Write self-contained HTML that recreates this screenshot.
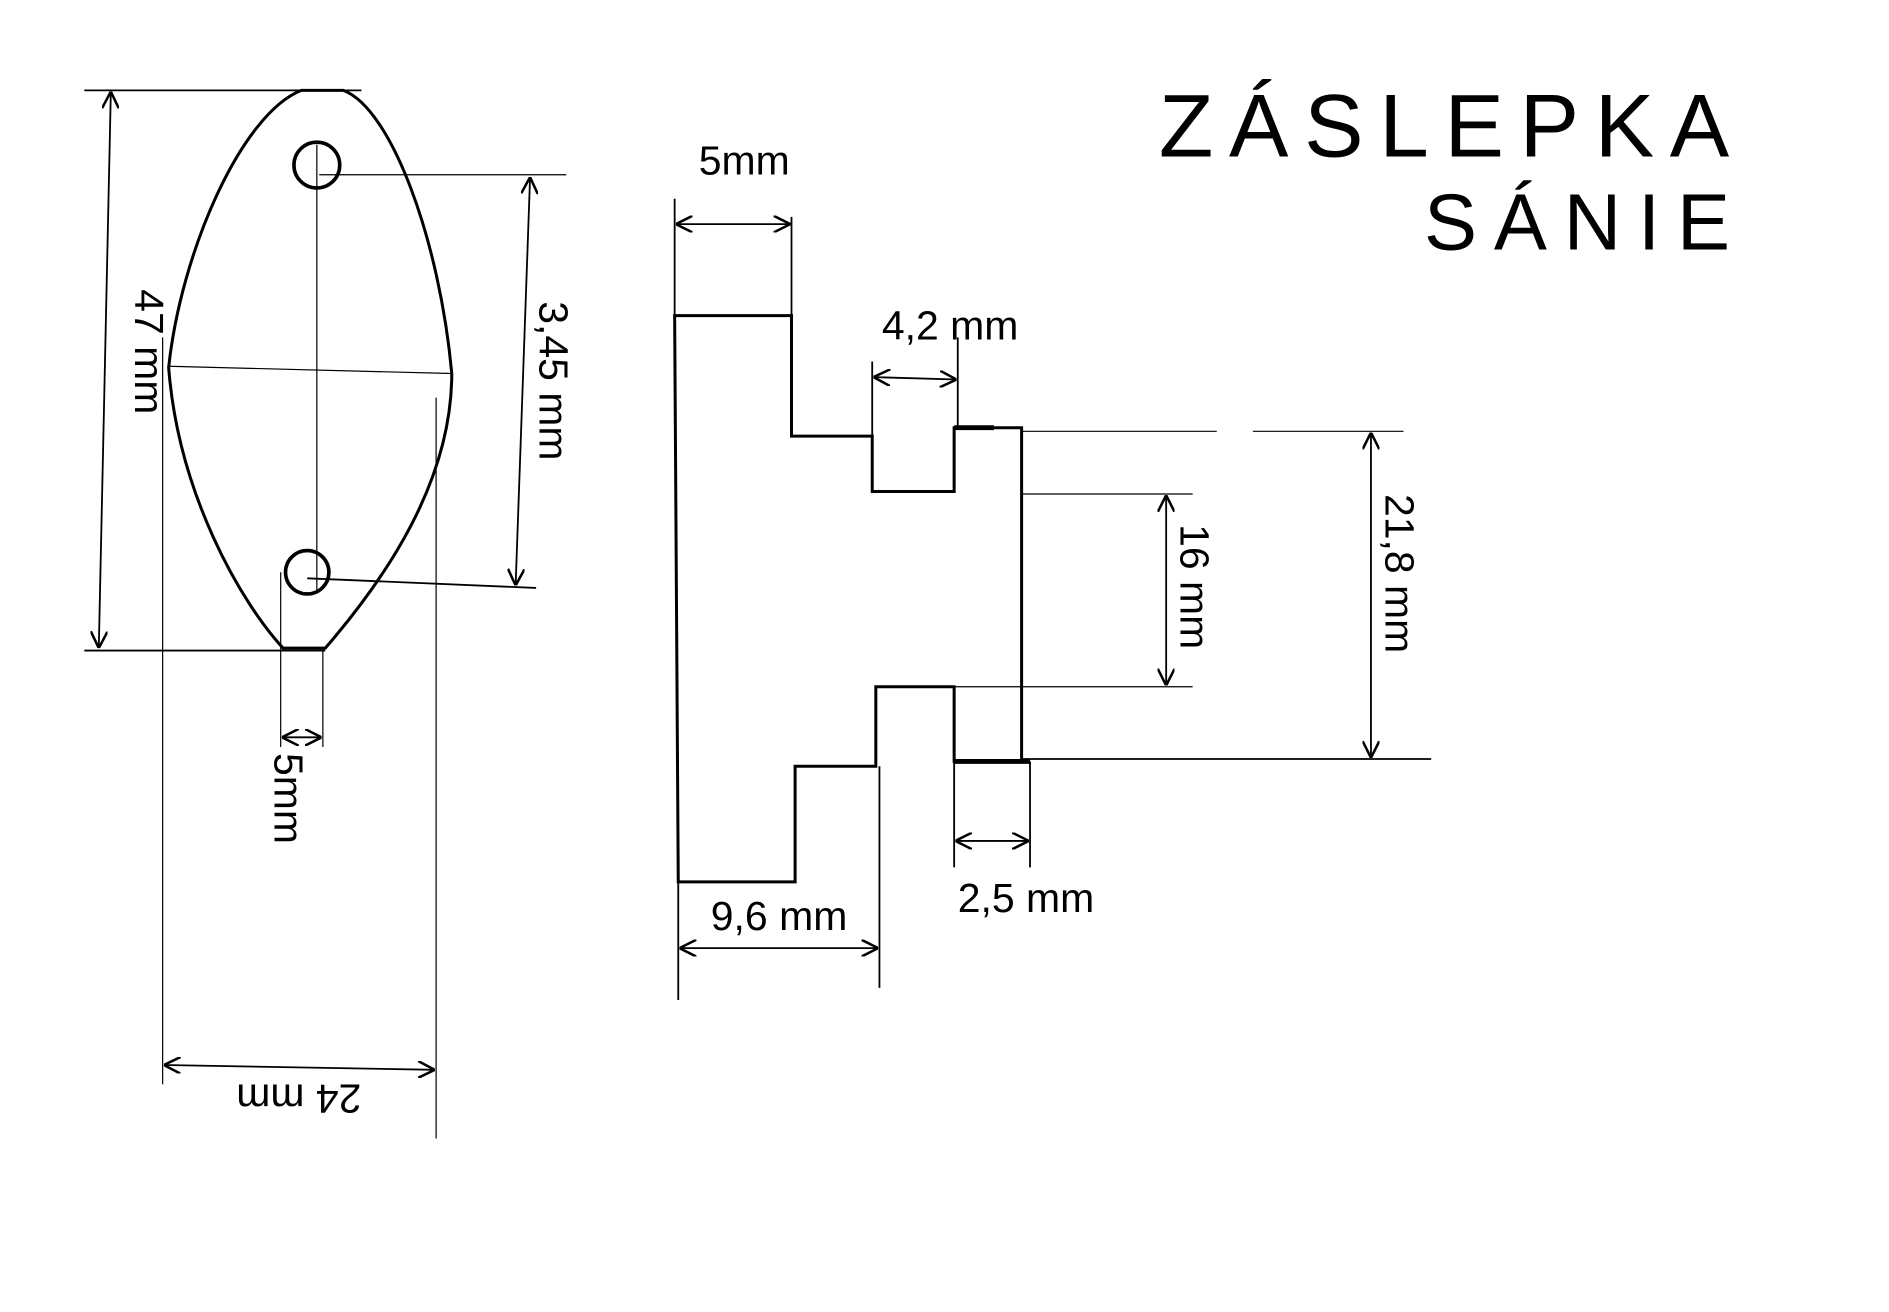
<!DOCTYPE html>
<html><head><meta charset="utf-8"><style>
html,body{margin:0;padding:0;background:#fff;}
svg{display:block;}
text{font-family:"Liberation Sans",sans-serif;fill:#000;}
</style></head><body>
<svg width="1889" height="1312" viewBox="0 0 1568 1089" xmlns="http://www.w3.org/2000/svg">
<defs>
<marker id="a" viewBox="0 0 10 10" refX="10" refY="5" markerWidth="14" markerHeight="14" orient="auto-start-reverse" markerUnits="userSpaceOnUse">
<path d="M0,0 L10,5 L0,10" fill="none" stroke="#000" stroke-width="1.5"/></marker>
</defs>
<g stroke="#000" fill="none" stroke-width="2">
<path d="M250,75 L285,75 C325,90 365,200 375,310 C375,400 320,480 270,538 L235,538 C200,500 148,410 140,305 C150,210 200,95 250,75 Z" stroke-width="2.5"/>
<circle cx="263" cy="137" r="19" stroke-width="3"/>
<circle cx="255" cy="475" r="18" stroke-width="3"/>
<line x1="263" y1="120" x2="263" y2="490" stroke-width="1"/>
<line x1="140" y1="304" x2="375" y2="310" stroke-width="1"/>
<line x1="70" y1="75" x2="300" y2="75" stroke-width="1.5"/>
<line x1="70" y1="540" x2="270" y2="540" stroke-width="1.5"/>
<line x1="92" y1="76" x2="82" y2="538" marker-start="url(#a)" marker-end="url(#a)" stroke-width="1.5"/>
<line x1="265" y1="145" x2="470" y2="145" stroke-width="1"/>
<line x1="255" y1="480" x2="445" y2="488" stroke-width="1.5"/>
<line x1="440" y1="147" x2="428" y2="486" marker-start="url(#a)" marker-end="url(#a)" stroke-width="1.5"/>
<line x1="135" y1="280" x2="135" y2="900" stroke-width="1"/>
<line x1="362" y1="330" x2="362" y2="945" stroke-width="1"/>
<line x1="136" y1="884" x2="361" y2="888" marker-start="url(#a)" marker-end="url(#a)" stroke-width="1.5"/>
<line x1="233" y1="475" x2="233" y2="620" stroke-width="1"/>
<line x1="268" y1="540" x2="268" y2="620" stroke-width="1"/>
<line x1="234" y1="612" x2="267" y2="612" marker-start="url(#a)" marker-end="url(#a)" stroke-width="1.5"/>
<path d="M560,262 L657,262 L657,362 L724,362 L724,408 L792,408 L792,355 L848,355 L848,632 L792,632 L792,570 L727,570 L727,636 L660,636 L660,732 L563,732 Z" stroke-width="2.5"/>
<line x1="792" y1="355" x2="825" y2="355" stroke-width="4"/>
<line x1="792" y1="632" x2="855" y2="632" stroke-width="4"/>
<line x1="560" y1="165" x2="560" y2="262" stroke-width="1.5"/>
<line x1="657" y1="180" x2="657" y2="262" stroke-width="1.5"/>
<line x1="561" y1="186" x2="656" y2="186" marker-start="url(#a)" marker-end="url(#a)" stroke-width="1.5"/>
<line x1="724" y1="300" x2="724" y2="362" stroke-width="1.5"/>
<line x1="795" y1="280" x2="795" y2="355" stroke-width="1.5"/>
<line x1="725" y1="313" x2="794" y2="315" marker-start="url(#a)" marker-end="url(#a)" stroke-width="1.5"/>
<line x1="848" y1="358" x2="1010" y2="358" stroke-width="1"/>
<line x1="1040" y1="358" x2="1165" y2="358" stroke-width="1"/>
<line x1="848" y1="410" x2="990" y2="410" stroke-width="1"/>
<line x1="792" y1="570" x2="990" y2="570" stroke-width="1"/>
<line x1="848" y1="630" x2="1188" y2="630" stroke-width="1.5"/>
<line x1="968" y1="411" x2="968" y2="569" marker-start="url(#a)" marker-end="url(#a)" stroke-width="1.5"/>
<line x1="1138" y1="359" x2="1138" y2="629" marker-start="url(#a)" marker-end="url(#a)" stroke-width="1.5"/>
<line x1="563" y1="732" x2="563" y2="830" stroke-width="1.5"/>
<line x1="730" y1="636" x2="730" y2="820" stroke-width="1.5"/>
<line x1="564" y1="787" x2="729" y2="787" marker-start="url(#a)" marker-end="url(#a)" stroke-width="1.5"/>
<line x1="792" y1="632" x2="792" y2="720" stroke-width="1.5"/>
<line x1="855" y1="632" x2="855" y2="720" stroke-width="1.5"/>
<line x1="793" y1="698" x2="854" y2="698" marker-start="url(#a)" marker-end="url(#a)" stroke-width="1.5"/>
</g>
<g font-size="34">
<text transform="translate(112,240) rotate(90)">47 mm</text>
<text transform="translate(448,250) rotate(90)">3,45 mm</text>
<text transform="translate(300,900) rotate(180)">24 mm</text>
<text transform="translate(228,625) rotate(90)">5mm</text>
<text x="580" y="145">5mm</text>
<text x="732" y="282">4,2 mm</text>
<text transform="translate(980,435) rotate(90)">16 mm</text>
<text transform="translate(1150,410) rotate(90)">21,8 mm</text>
<text x="590" y="772">9,6 mm</text>
<text x="795" y="757">2,5 mm</text>
</g>
<text x="962" y="130" font-size="74" letter-spacing="13">ZÁSLEPKA</text>
<text x="1182" y="207" font-size="66" letter-spacing="14">SÁNIE</text>
</svg>
</body></html>
